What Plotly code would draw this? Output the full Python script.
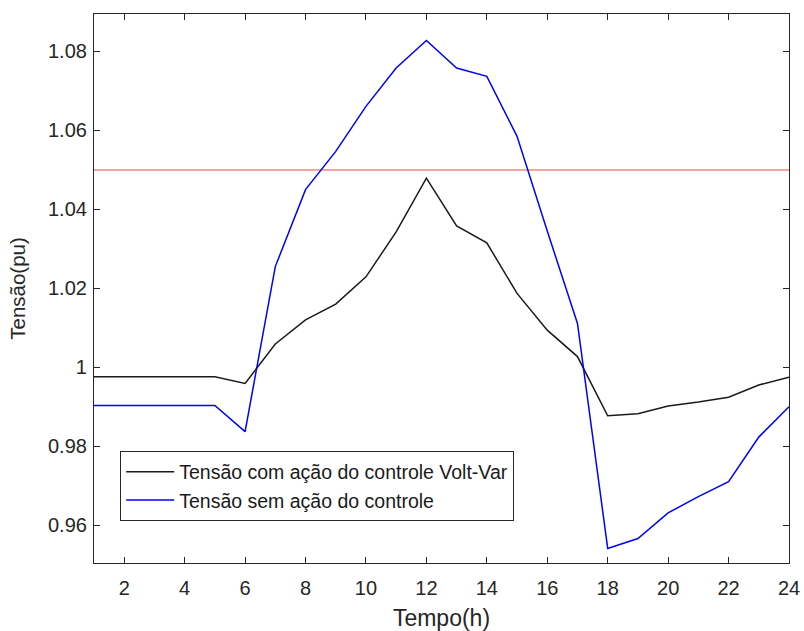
import plotly.graph_objects as go

hours = list(range(1, 25))
v_with_control = [0.9976, 0.9976, 0.9976, 0.9976, 0.9976, 0.9959, 1.0059, 1.0120,
                  1.0160, 1.0229, 1.0343, 1.0479, 1.0358, 1.0315, 1.0187, 1.0094,
                  1.0027, 0.9877, 0.9882, 0.9902, 0.9912, 0.9924, 0.9955, 0.9975]
v_without_control = [0.9903, 0.9903, 0.9903, 0.9903, 0.9903, 0.9837, 1.0255, 1.0450,
                     1.0547, 1.0661, 1.0758, 1.0828, 1.0758, 1.0737, 1.0585, 1.0345,
                     1.0111, 0.9541, 0.9566, 0.9631, 0.9672, 0.9710, 0.9823, 0.9900]
upper_limit = 1.05
x_ticks = list(range(2, 25, 2))
y_ticks = [0.96, 0.98, 1.00, 1.02, 1.04, 1.06, 1.08]
y_tick_labels = ["0.96", "0.98", "1", "1.02", "1.04", "1.06", "1.08"]

names = ["Tensão com ação do controle Volt-Var", "Tensão sem ação do controle"]

fig = go.Figure()
fig.add_trace(go.Scatter(x=hours, y=[upper_limit] * len(hours), mode="lines",
                         line=dict(color="rgb(255,128,128)", width=1.5),
                         showlegend=False, hoverinfo="skip"))
fig.add_trace(go.Scatter(x=hours, y=v_with_control, mode="lines", name=names[0],
                         line=dict(color="#1a1a1a", width=1.5)))
fig.add_trace(go.Scatter(x=hours, y=v_without_control, mode="lines", name=names[1],
                         line=dict(color="#0000ff", width=1.5)))

axis_common = dict(showline=True, linecolor="#262626", linewidth=1.2, mirror="ticks",
                   ticks="inside", ticklen=6, tickcolor="#262626", showgrid=False,
                   zeroline=False, automargin=False,
                   tickfont=dict(size=20, color="#262626"))

fig.update_layout(
    width=804, height=631,
    margin=dict(l=94, r=15, t=14, b=68),
    paper_bgcolor="white", plot_bgcolor="white",
    font=dict(family="Liberation Sans, Arial, sans-serif", color="#262626"),
    xaxis=dict(range=[1, 24], tickvals=x_ticks, ticklabelstandoff=7,
               title=dict(text="Tempo(h)", font=dict(size=23), standoff=17), **axis_common),
    yaxis=dict(range=[0.9504, 1.0895], tickvals=y_ticks, ticktext=y_tick_labels,
               ticklabelstandoff=2,
               title=dict(text="Tensão(pu)", font=dict(size=20.5), standoff=16), **axis_common),
    legend=dict(x=0.0374, y=0.2035, xanchor="left", yanchor="top",
                bgcolor="white", bordercolor="#262626", borderwidth=1.2,
                font=dict(size=19.5, color="#1a1a1a"), itemwidth=48),
    showlegend=True,
)

fig.write_html("out.html")
